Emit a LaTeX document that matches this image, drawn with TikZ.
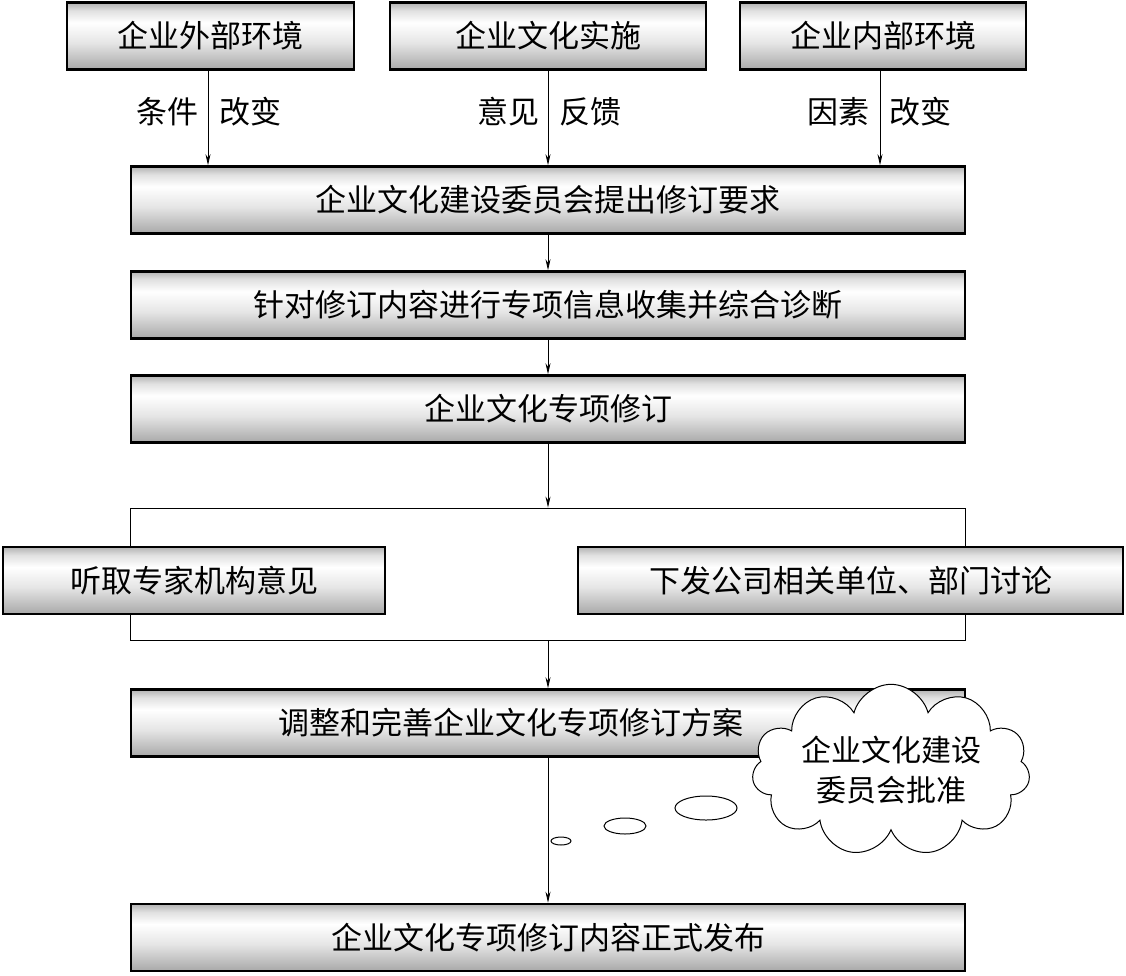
\documentclass[tikz,border=0pt]{standalone}
\usepackage{fontspec}
\setmainfont{Noto Sans CJK SC}
\usetikzlibrary{arrows.meta,shapes.symbols}
\pgfdeclareverticalshading{boxshade}{100bp}{color(0bp)=(black!34); color(25bp)=(black!34); color(45bp)=(black!10); color(60bp)=(white); color(69bp)=(black!12); color(75bp)=(black!30); color(100bp)=(black!30)}
\begin{document}
\begin{tikzpicture}[x=1pt,y=-1pt,
  box/.style={draw, line width=2.6pt, shading=boxshade, minimum height=67pt, inner sep=0pt, font=\fontsize{31}{36}\selectfont},
  arr/.style={-{Stealth[length=11pt,width=5pt]}, line width=0.8pt},
  lbl/.style={font=\fontsize{31}{36}\selectfont, inner sep=0pt},
  thin/.style={draw, line width=0.9pt}]
\useasboundingbox (0,0) rectangle (1126,975);
% top boxes
\node[box, minimum width=287pt] (ext) at (210.5,36) {企业外部环境};
\node[box, minimum width=316pt] (imp) at (548,36) {企业文化实施};
\node[box, minimum width=286pt] (int) at (883,36) {企业内部环境};
% main column
\node[box, minimum width=834pt] (req) at (548,200) {企业文化建设委员会提出修订要求};
\node[box, minimum width=834pt] (diag) at (548,305) {针对修订内容进行专项信息收集并综合诊断};
\node[box, minimum width=834pt] (rev) at (548,409) {企业文化专项修订};
% bracket
\node[thin, minimum width=835pt, minimum height=132pt, inner sep=0pt] (br) at (547.5,574) {};
\node[box, minimum width=382pt] (exp) at (194,580.5) {听取专家机构意见};
\node[box, minimum width=545pt] (dep) at (850.5,580.5) {下发公司相关单位、部门讨论};
% adjust
\node[box, minimum width=834pt] (adj) at (548,723) {};
\node[lbl] (adjt) at (511,723) {调整和完善企业文化专项修订方案};
\node[box, minimum width=834pt] (pub) at (548,937.5) {企业文化专项修订内容正式发布};
% arrows
\draw[arr] (208,0 |- ext.south) coordinate (e1) -- (e1 |- req.north);
\draw[arr] (imp.south) -- (imp.south |- req.north);
\draw[arr] (880,0 |- int.south) coordinate (i1) -- (i1 |- req.north);
\draw[arr] (req.south) -- (diag.north);
\draw[arr] (diag.south) -- (rev.north);
\draw[arr] (rev.south) -- (rev.south |- br.north);
\draw[arr] (br.south -| adj.north) -- (adj.north);
\draw[arr] (adj.south) -- (pub.north);
% labels
\node[lbl] (l1) at (167,112) {条件};
\node[lbl] (l2) at (250,112) {改变};
\node[lbl] (l3) at (508,112) {意见};
\node[lbl] (l4) at (590,112) {反馈};
\node[lbl] (l5) at (838,112) {因素};
\node[lbl] (l6) at (920,112) {改变};
% cloud
\node[cloud, cloud puffs=11, aspect=2.1, draw, fill=white, line width=1pt, minimum width=278pt, minimum height=136pt, inner sep=0pt, align=center, font=\fontsize{30}{40}\selectfont] (cl) at (891,770) {企业文化建设\\委员会批准};
\draw[line width=1pt] (706,808) ellipse [x radius=31, y radius=12];
\draw[line width=1pt] (625,826) ellipse [x radius=21, y radius=8];
\draw[line width=1pt] (561,841) ellipse [x radius=10, y radius=4];
\end{tikzpicture}
\end{document}
